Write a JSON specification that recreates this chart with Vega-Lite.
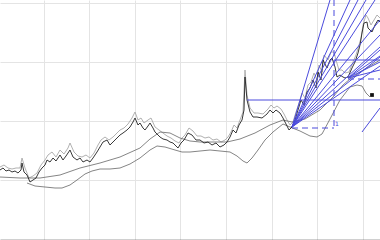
{
 "$schema": "https://vega.github.io/schema/vega-lite/v6.json",
 "width": 380, "height": 240,
 "autosize": {"type": "fit", "contains": "padding"},
 "padding": 0,
 "config": {"view": {"stroke": null}},
 "datasets": {
  "close": [
   {"d":0,"v":35},{"d":1.5,"v":36},{"d":3,"v":34.5},{"d":4.5,"v":35},{"d":6,"v":34},{"d":7.5,"v":34.5},{"d":9,"v":33.5},{"d":10.5,"v":35},{"d":11,"v":38.5},{"d":12,"v":34},{"d":13.5,"v":32.5},{"d":15,"v":29},{"d":16.5,"v":30},{"d":18,"v":31},{"d":19.5,"v":34},{"d":21,"v":36},{"d":22.5,"v":37.5},{"d":23.5,"v":40},{"d":25,"v":39},{"d":26.5,"v":41},{"d":28,"v":39.5},{"d":30,"v":42.5},{"d":31.5,"v":40},{"d":33,"v":42},{"d":35,"v":45},{"d":36.5,"v":41.5},{"d":38.5,"v":40},{"d":40,"v":41},{"d":41.5,"v":39},{"d":43.5,"v":40},{"d":45,"v":39},{"d":46.5,"v":41},{"d":48.5,"v":44},{"d":50,"v":46.5},{"d":51.5,"v":49},{"d":53.5,"v":50},{"d":55,"v":47.5},{"d":56.5,"v":49},{"d":58.5,"v":51},{"d":60,"v":52.5},{"d":61.5,"v":53.5},{"d":63.5,"v":55},{"d":65,"v":56.5},{"d":66.5,"v":59},{"d":67.5,"v":61},{"d":69,"v":57.5},{"d":70,"v":58.5},{"d":71.5,"v":56},{"d":72.5,"v":55},{"d":74,"v":57},{"d":75,"v":58.5},{"d":76.5,"v":56},{"d":77.5,"v":54},{"d":79,"v":52.5},{"d":80,"v":51.5},{"d":81.5,"v":50.5},{"d":83.5,"v":50},{"d":85,"v":49},{"d":86.5,"v":48.5},{"d":88,"v":47},{"d":89,"v":46},{"d":90.5,"v":48.5},{"d":92,"v":50},{"d":94,"v":53.5},{"d":96,"v":52.5},{"d":98,"v":50},{"d":100,"v":50},{"d":102,"v":48.5},{"d":104,"v":49},{"d":106,"v":47.5},{"d":108,"v":48.5},{"d":110,"v":46.5},{"d":112,"v":47.5},{"d":113.5,"v":49},{"d":115,"v":51.5},{"d":116.5,"v":55},{"d":118,"v":53.5},{"d":119.5,"v":57.5},{"d":121,"v":60},{"d":122,"v":65},{"d":122.5,"v":81.5},{"d":123.5,"v":70},{"d":125,"v":64},{"d":126.5,"v":61.5},{"d":128.5,"v":61.5},{"d":131,"v":61},{"d":133.5,"v":63},{"d":135,"v":65},{"d":136.5,"v":63.5},{"d":138,"v":65},{"d":140,"v":63.5},{"d":141.5,"v":61},{"d":143,"v":58},{"d":144.5,"v":55},{"d":146,"v":56.5},{"d":147.5,"v":60},{"d":149,"v":65},{"d":150.5,"v":70},{"d":152,"v":67.5},{"d":153.5,"v":74},{"d":155,"v":76},{"d":156.5,"v":80},{"d":158,"v":76},{"d":159,"v":84},{"d":160.5,"v":80},{"d":161.5,"v":90},{"d":163.5,"v":86},{"d":165,"v":90},{"d":166,"v":91},{"d":167.5,"v":86.5},{"d":168.5,"v":81.5},{"d":170,"v":82.5},{"d":171.5,"v":81.5},{"d":172.5,"v":81},{"d":174,"v":81.5},{"d":176,"v":86},{"d":177.5,"v":89},{"d":179,"v":93.5},{"d":180,"v":97.5},{"d":181,"v":103.5},{"d":182,"v":108.5},{"d":183.5,"v":109},{"d":184,"v":106},{"d":185,"v":105},{"d":186,"v":104},{"d":187.5,"v":107.5},{"d":189,"v":110},{"d":190,"v":109}
  ],
  "high": [
   {"d":0,"v":36.5},{"d":2,"v":37.5},{"d":4,"v":36},{"d":6,"v":35.5},{"d":8,"v":36},{"d":10,"v":36},{"d":11,"v":41},{"d":12.5,"v":36},{"d":14.5,"v":31},{"d":16.5,"v":32},{"d":18.5,"v":33.5},{"d":20.5,"v":37.5},{"d":22.5,"v":40},{"d":24,"v":42.5},{"d":26,"v":44},{"d":28,"v":41.5},{"d":30,"v":45},{"d":32,"v":43},{"d":34,"v":46},{"d":35,"v":48.5},{"d":37,"v":44},{"d":39,"v":42},{"d":41,"v":41.5},{"d":43,"v":42.5},{"d":45,"v":41},{"d":47,"v":43.5},{"d":49,"v":47.5},{"d":50.5,"v":50},{"d":52.5,"v":51.5},{"d":54.5,"v":50},{"d":56.5,"v":51.5},{"d":58.5,"v":53.5},{"d":60,"v":55},{"d":62,"v":56},{"d":64,"v":58},{"d":66,"v":61},{"d":67.5,"v":64},{"d":69,"v":60},{"d":70.5,"v":61},{"d":72,"v":58.5},{"d":74,"v":60},{"d":75.5,"v":61},{"d":77.5,"v":56.5},{"d":79.5,"v":55},{"d":81.5,"v":53.5},{"d":83.5,"v":52},{"d":85.5,"v":51},{"d":87.5,"v":49.5},{"d":89.5,"v":48.5},{"d":91,"v":51},{"d":92.5,"v":52.5},{"d":94.5,"v":56},{"d":96.5,"v":54.5},{"d":98.5,"v":52},{"d":100.5,"v":52},{"d":102.5,"v":51},{"d":104.5,"v":51.5},{"d":106.5,"v":50},{"d":108.5,"v":50.5},{"d":110.5,"v":49},{"d":112.5,"v":50},{"d":114,"v":51.5},{"d":115.5,"v":54},{"d":117,"v":57.5},{"d":118.5,"v":56},{"d":120,"v":60},{"d":121.5,"v":64},{"d":122.5,"v":85},{"d":123.5,"v":72.5},{"d":125,"v":66},{"d":127,"v":63.5},{"d":129,"v":63.5},{"d":131.5,"v":63},{"d":134,"v":65.5},{"d":135.5,"v":67.5},{"d":137,"v":66},{"d":138.5,"v":67},{"d":140.5,"v":65.5},{"d":142,"v":63},{"d":143.5,"v":60},{"d":145,"v":57.5},{"d":146.5,"v":59},{"d":148,"v":64},{"d":149.5,"v":68.5},{"d":151,"v":73.5},{"d":152.5,"v":71},{"d":154,"v":77.5},{"d":155.5,"v":79},{"d":157,"v":83.5},{"d":158.5,"v":80},{"d":159.5,"v":87.5},{"d":161,"v":84},{"d":162,"v":92.5},{"d":164,"v":90},{"d":165.5,"v":94},{"d":167,"v":94},{"d":168,"v":90},{"d":169.5,"v":85},{"d":171,"v":85},{"d":172.5,"v":83.5},{"d":174.5,"v":84},{"d":176.5,"v":89},{"d":178,"v":92.5},{"d":179.5,"v":97.5},{"d":180.5,"v":101},{"d":181.5,"v":107.5},{"d":183,"v":112.5},{"d":184,"v":111},{"d":185.5,"v":107.5},{"d":187,"v":110},{"d":188.5,"v":112.5},{"d":190,"v":111}
  ],
  "ma": [
   {"d":0,"v":31.5},{"d":10,"v":31},{"d":20,"v":31},{"d":30,"v":32.5},{"d":40,"v":36},{"d":50,"v":38.5},{"d":60,"v":41.5},{"d":70,"v":46},{"d":75,"v":50.5},{"d":80,"v":54},{"d":85,"v":53.5},{"d":90,"v":51},{"d":95,"v":49.5},{"d":100,"v":49},{"d":107.5,"v":49},{"d":113.5,"v":49},{"d":120,"v":50.5},{"d":127.5,"v":53.5},{"d":135,"v":57.5},{"d":141.5,"v":60},{"d":146,"v":59},{"d":152.5,"v":60.5},{"d":160,"v":65},{"d":166.5,"v":71.5},{"d":171.5,"v":77.5},{"d":175,"v":80.5},{"d":180,"v":84},{"d":185,"v":87},{"d":190,"v":90}
  ],
  "lower": [
   {"d":13.5,"v":28.5},{"d":17.5,"v":27},{"d":22.5,"v":26.5},{"d":27.5,"v":26},{"d":31,"v":26},{"d":35,"v":27.5},{"d":38.5,"v":30},{"d":42.5,"v":33},{"d":46,"v":34.5},{"d":50,"v":35.5},{"d":55,"v":35.5},{"d":60,"v":36},{"d":65,"v":38},{"d":70,"v":41},{"d":75,"v":45},{"d":78.5,"v":47},{"d":82.5,"v":46.5},{"d":87.5,"v":45},{"d":91,"v":44},{"d":95,"v":44},{"d":100,"v":44.5},{"d":105,"v":45},{"d":110,"v":44.5},{"d":115,"v":44},{"d":118.5,"v":42},{"d":121.5,"v":39.5},{"d":123.5,"v":38.5},{"d":126,"v":41},{"d":129,"v":45},{"d":132.5,"v":50},{"d":136.5,"v":54},{"d":141.5,"v":58},{"d":145,"v":56.5},{"d":150,"v":54.5},{"d":155,"v":52},{"d":158.5,"v":51.5},{"d":161,"v":53},{"d":165,"v":60.5},{"d":170,"v":70},{"d":175,"v":76.5},{"d":178.5,"v":77.5},{"d":181,"v":77},{"d":183,"v":73.5},{"d":185,"v":71.5}
  ],
  "seg": [
   {"d":146,"v":56.5,"d2":165,"v2":120},
   {"d":146,"v":56.5,"d2":175,"v2":120},
   {"d":146,"v":56.5,"d2":179,"v2":120},
   {"d":146,"v":56.5,"d2":183,"v2":120},
   {"d":146,"v":56.5,"d2":187.5,"v2":120},
   {"d":146,"v":56.5,"d2":190,"v2":110},
   {"d":146,"v":56.5,"d2":190,"v2":102.5},
   {"d":146,"v":56.5,"d2":190,"v2":96.5},
   {"d":146,"v":56.5,"d2":190,"v2":91.5},
   {"d":146,"v":56.5,"d2":190,"v2":87},
   {"d":174,"v":81,"d2":190,"v2":95},
   {"d":174,"v":81,"d2":190,"v2":92},
   {"d":174,"v":81,"d2":190,"v2":89},
   {"d":174,"v":81,"d2":190,"v2":85},
   {"d":123.5,"v":70,"d2":190,"v2":70},
   {"d":167,"v":90,"d2":190,"v2":90},
   {"d":181,"v":54,"d2":190,"v2":66}
  ],
  "dash": [
   {"d":167,"v":120,"d2":167,"v2":56},
   {"d":146,"v":56,"d2":167,"v2":56},
   {"d":174,"v":80.5,"d2":190,"v2":80.5}
  ],
  "mk": [{"d":186,"v":72.5}],
  "lbl": [{"d":167.5,"v":58,"t":"1"}]
 },
 "encoding": {
  "x": {"field":"d","type":"quantitative","scale":{"domain":[0,190],"nice":false,"zero":false},
        "axis":{"values":[21.75,44.55,67.35,90.15,112.95,135.75,158.55,181.35],"labels":false,"ticks":false,"title":null,"grid":true,"gridColor":"#e4e4e4","gridWidth":1,"domainColor":"#444444","domainWidth":1.5}},
  "y": {"field":"v","type":"quantitative","scale":{"domain":[0,120],"nice":false,"zero":false},
        "axis":{"values":[30,59.5,89,118.5],"labels":false,"ticks":false,"title":null,"domain":false,"grid":true,"gridColor":"#e4e4e4","gridWidth":1}}
 },
 "layer": [
  {"data":{"name":"high"},"mark":{"type":"line","color":"#a8a8a8","strokeWidth":0.9,"clip":true}},
  {"data":{"name":"ma"},"mark":{"type":"line","color":"#666666","strokeWidth":0.8,"clip":true}},
  {"data":{"name":"lower"},"mark":{"type":"line","color":"#666666","strokeWidth":0.8,"clip":true}},
  {"data":{"name":"close"},"mark":{"type":"line","color":"#222222","strokeWidth":0.9,"clip":true}},
  {"data":{"name":"seg"},"mark":{"type":"rule","color":"#4b4bdc","strokeWidth":1,"clip":true},
   "encoding":{"x2":{"field":"d2"},"y2":{"field":"v2"}}},
  {"data":{"name":"dash"},"mark":{"type":"rule","color":"#4b4bdc","strokeWidth":1,"strokeDash":[6,4],"clip":true},
   "encoding":{"x2":{"field":"d2"},"y2":{"field":"v2"}}},
  {"data":{"name":"mk"},"mark":{"type":"square","color":"#111111","filled":true,"size":14,"opacity":1}},
  {"data":{"name":"lbl"},"mark":{"type":"text","color":"#4b4bdc","fontSize":6,"align":"left","baseline":"middle","font":"DejaVu Sans"},
   "encoding":{"text":{"field":"t"}}}
 ]
}
